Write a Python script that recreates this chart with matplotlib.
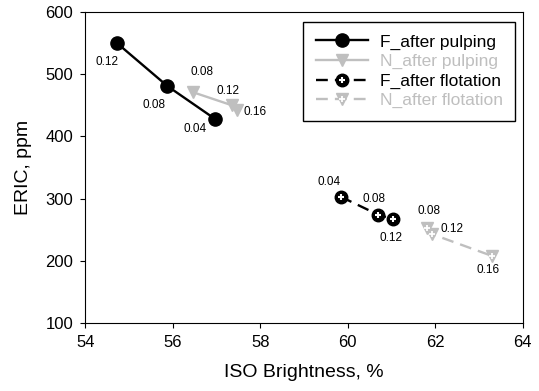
import matplotlib
matplotlib.use('Agg')
import matplotlib.pyplot as plt

plt.rcParams['font.family'] = ['Liberation Sans', 'DejaVu Sans']

# ISO brightness (%), ERIC (ppm), dose labels
f_pulp_x = [54.73, 55.88, 56.97]
f_pulp_y = [550, 481, 428]
f_pulp_lab = ['0.12', '0.08', '0.04']

n_pulp_x = [56.47, 57.36, 57.47]
n_pulp_y = [471, 450, 442]
n_pulp_lab = ['0.08', '0.12', '0.16']

f_flot_x = [59.84, 60.70, 61.04]
f_flot_y = [303, 274, 267]
f_flot_lab = ['0.04', '0.08', '0.12']

n_flot_x = [61.80, 61.92, 63.29]
n_flot_y = [252, 243, 208]
n_flot_lab = ['0.08', '0.12', '0.16']

grey = '#bfbfbf'

fig = plt.figure(figsize=(5.39, 3.91), dpi=100)
ax = fig.add_axes([0.158, 0.174, 0.812, 0.795])

h1, = ax.plot(f_pulp_x, f_pulp_y, '-', color='black', lw=1.7, marker='o', ms=9.5)
h2, = ax.plot(n_pulp_x, n_pulp_y, '-', color=grey, lw=1.7, marker='v', ms=9)
h3, = ax.plot(f_flot_x, f_flot_y, color='black', lw=1.7, ls=(0, (5, 3)), marker='o', ms=9)
h3b, = ax.plot(f_flot_x, f_flot_y, ls='none', marker='+', color='white', ms=4.5, mew=1.5)
h4, = ax.plot(n_flot_x, n_flot_y, color=grey, lw=1.7, ls=(0, (5, 3)), marker='v', ms=9)
h4b, = ax.plot(n_flot_x, n_flot_y, ls='none', marker='+', color='white', ms=4, mew=1.3)

# label offsets in pixels
off_f_pulp = [(-10, -19), (-13, -19), (-20, -10)]
off_n_pulp = [(9, 20), (-4, 14), (18, -2)]
off_f_flot = [(-12, 15), (-4, 16), (-2, -19)]
off_n_flot = [(2, 17), (20, 5), (-4, -14)]

for xs, ys, labs, offs in [(f_pulp_x, f_pulp_y, f_pulp_lab, off_f_pulp),
                           (n_pulp_x, n_pulp_y, n_pulp_lab, off_n_pulp),
                           (f_flot_x, f_flot_y, f_flot_lab, off_f_flot),
                           (n_flot_x, n_flot_y, n_flot_lab, off_n_flot)]:
    for x, y, t, o in zip(xs, ys, labs, offs):
        ax.annotate(t, (x, y), xytext=o, textcoords='offset pixels',
                    ha='center', va='center', fontsize=8.5)

ax.set_xlim(54, 64)
ax.set_ylim(100, 600)
ax.set_xticks([54, 56, 58, 60, 62, 64])
ax.set_yticks([100, 200, 300, 400, 500, 600])
ax.tick_params(direction='out', labelsize=12, top=False, right=False, pad=5)
ax.set_xlabel('ISO Brightness, %', fontsize=14, labelpad=10)
ax.set_ylabel('ERIC, ppm', fontsize=14, labelpad=10)

leg = ax.legend([h1, h2, (h3, h3b), (h4, h4b)],
                ['F_after pulping', 'N_after pulping', 'F_after flotation', 'N_after flotation'],
                loc='upper right', bbox_to_anchor=(0.982, 0.968), borderaxespad=0,
                fontsize=12.5, handlelength=3.0, handletextpad=0.7,
                fancybox=False, edgecolor='black', framealpha=1,
                borderpad=0.7, labelspacing=0.25)
leg.get_frame().set_linewidth(1.0)
leg.get_texts()[1].set_color(grey)
leg.get_texts()[3].set_color(grey)

fig.savefig('out.png', dpi=100)
